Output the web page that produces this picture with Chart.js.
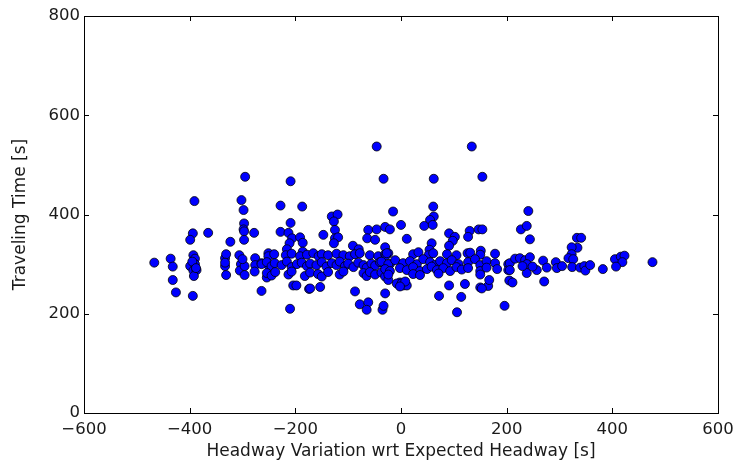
<!DOCTYPE html>
<html>
<head>
<meta charset="utf-8">
<script src="https://cdn.jsdelivr.net/npm/chart.js@4.4.1/dist/chart.umd.min.js"></script>
<style>
  html, body { margin: 0; padding: 0; background: #ffffff; }
  #wrap { width: 736px; height: 462px; }
</style>
</head>
<body>
<div id="wrap"><canvas id="c" width="736" height="462"></canvas></div>
<script>
// Tick labels
const xTicks = [-600, -400, -200, 0, 200, 400, 600];
const yTicks = [0, 200, 400, 600, 800];

// Headway variation wrt expected headway [s] (x) and traveling time [s] (y)
const headwayVariation = [
  -467,-436,-432,-432,-426,-394,-391,-394,-399,-393,-390,-399,-390,-393,-387,-392,-395,-388,-365,
  -333,-331,-333,-331,-333,-323,
  -306,-303,-305,-296,-296,-295,-302,-298,-297,-298,-297,-297,-300,
  -278,-276,-276,-277,-264,-251,-251,-254,-264,
  -46,-209,-33,-228,-187,-131,-120,-209,-127,-228,-213,-125,-62,-46,-30,-147,-206,-191,-186,-125,-119,-64,-49,-211,-127,-91,-216,-186,-80,-30,
  -204,-198,-174,-153,-87,-30,-78,-62,-210,-65,-35,-172,
  -251,-240,-218,-207,-191,-178,-166,-156,-150,-138,-122,-109,-97,-87,-78,-59,-43,-30,-24,
  -264,-254,-245,-239,-226,-216,-207,-197,-188,-178,-172,-160,-150,-141,-131,-122,-116,-106,-100,-90,-81,-71,-65,-56,-49,-40,-30,-21,
  -254,-245,-238,-213,-207,-182,-172,-157,-150,-138,-116,-109,-71,-65,-59,-49,-37,-30,
  134,62,154,-15,61,62,55,44,60,0,-21,11,91,102,98,91,130,127,147,154,126,151,58,54,-28,
  -24,-2,4,11,91,121,150,165,72,114,-33,106,196,-8,1,8,-2,167,153,
  -27,23,33,52,61,87,105,131,150,178,
  -37,-24,-11,4,17,30,42,55,64,74,87,96,109,127,140,150,162,178,203,
  -30,-21,-2,11,23,36,49,58,68,80,93,105,115,127,150,162,182,203,
  -24,23,36,71,150,
  241,227,238,244,333,341,334,323,323,317,326,405,416,423,419,407,476,382,
  269,276,293,295,305,324,339,347,349,358,
  206,216,225,235,244,238,238,257,249,230,206,205,211,271
];
const travelingTime = [
  303,311,295,268,243,236,427,362,349,318,311,296,300,287,288,276,305,292,363,
  312,320,296,278,303,345,
  318,300,287,296,278,476,429,409,382,370,366,349,310,
  363,312,298,285,302,322,298,273,246,
  537,467,472,418,416,396,400,383,386,365,363,369,369,370,375,359,352,354,343,352,354,352,349,342,342,337,330,325,330,334,
  257,257,250,254,245,241,219,223,210,208,208,251,
  316,320,318,321,316,319,322,316,320,318,321,318,316,320,322,318,316,320,322,
  300,304,296,302,298,305,294,300,303,296,301,298,304,295,302,298,305,296,301,294,303,298,293,301,297,304,296,300,
  282,277,284,279,285,276,283,280,275,284,279,285,282,276,284,279,283,275,
  537,472,476,406,416,396,389,377,379,379,370,351,362,355,347,337,367,355,370,370,322,327,342,329,318,
  268,263,257,257,257,260,253,256,236,234,216,203,216,261,261,265,255,268,251,
  322,320,324,318,322,320,318,323,319,321,
  305,300,308,302,306,300,310,304,298,306,302,308,300,304,310,298,306,302,300,
  290,286,292,288,294,286,290,295,288,292,286,294,289,292,286,293,290,288,
  279,280,278,281,279,
  407,370,377,350,353,353,333,334,320,312,310,310,315,317,304,295,304,290,
  307,293,304,292,296,294,293,296,287,298,
  302,311,312,308,314,300,282,288,295,296,288,267,263,265
];

const points = headwayVariation.map((x, i) => ({ x: x, y: travelingTime[i] }));

const FONT = 'DejaVu Sans';
const TXT = '#1a1a1a';
const fmt = v => String(v).replace('-', '\u2212');

const frameTicks = {
  id: 'frameTicks',
  afterDraw(chart) {
    const { ctx, chartArea: a, scales } = chart;
    ctx.save();
    ctx.strokeStyle = '#000';
    ctx.lineWidth = 1;
    const L = 5;
    ctx.beginPath();
    xTicks.forEach(v => {
      const px = Math.round(scales.x.getPixelForValue(v)) + 0.5;
      ctx.moveTo(px, a.bottom); ctx.lineTo(px, a.bottom - L);
      ctx.moveTo(px, a.top); ctx.lineTo(px, a.top + L);
    });
    yTicks.forEach(v => {
      const py = Math.round(scales.y.getPixelForValue(v)) + 0.5;
      ctx.moveTo(a.left, py); ctx.lineTo(a.left + L, py);
      ctx.moveTo(a.right, py); ctx.lineTo(a.right - L, py);
    });
    ctx.stroke();
    ctx.strokeRect(Math.round(a.left) + 0.5, Math.round(a.top) + 0.5,
                   Math.round(a.right - a.left), Math.round(a.bottom - a.top));
    ctx.restore();
  }
};

new Chart(document.getElementById('c'), {
  type: 'scatter',
  data: {
    datasets: [{
      data: points,
      backgroundColor: '#0000ff',
      borderColor: '#000000',
      borderWidth: 0.8,
      pointRadius: 4.5,
      pointHoverRadius: 4.5
    }]
  },
  options: {
    responsive: false,
    animation: false,
    devicePixelRatio: 1,
    layout: { padding: { top: 16, right: 18, left: 0, bottom: 0 } },
    plugins: { legend: { display: false }, tooltip: { enabled: false } },
    scales: {
      x: {
        type: 'linear', min: -600, max: 600,
        afterFit: s => { s.height = 49; s.paddingLeft = 0; s.paddingRight = 0; },
        afterBuildTicks: s => { s.ticks = xTicks.map(v => ({ value: v })); },
        grid: { display: false, drawTicks: false },
        border: { display: false },
        ticks: { color: TXT, padding: 7, font: { family: FONT, size: 16.5 }, callback: v => fmt(v), maxRotation: 0 },
        title: { display: true, text: 'Headway Variation wrt Expected Headway [s]', color: TXT,
                 font: { family: FONT, size: 17 }, padding: { top: 4, bottom: 0 } }
      },
      y: {
        type: 'linear', min: 0, max: 800,
        afterFit: s => { s.width = 84; s.paddingTop = 0; s.paddingBottom = 0; },
        afterBuildTicks: s => { s.ticks = yTicks.map(v => ({ value: v })); },
        grid: { display: false, drawTicks: false },
        border: { display: false },
        ticks: { color: TXT, padding: 4, font: { family: FONT, size: 16.5 }, callback: v => fmt(v) },
        title: { display: true, text: 'Traveling Time [s]', color: TXT,
                 font: { family: FONT, size: 17 }, padding: { top: 10, bottom: 0 } }
      }
    }
  },
  plugins: [frameTicks]
});
</script>
</body>
</html>
